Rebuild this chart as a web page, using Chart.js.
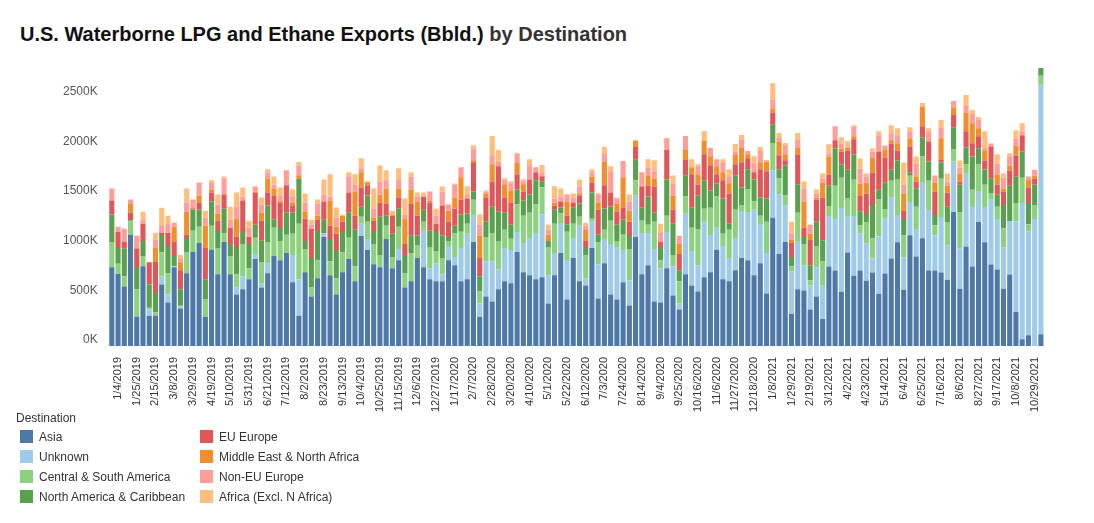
<!DOCTYPE html>
<html>
<head>
<meta charset="utf-8">
<script src="https://cdn.jsdelivr.net/npm/chart.js@4.4.0/dist/chart.umd.min.js"></script>
<style>
    body { margin: 0; background: #fff; font-family: Arial, "Liberation Sans", sans-serif; }
    #title { position: absolute; left: 20px; top: 23px; font-size: 20px; font-weight: bold; color: #111; }
    #title span { color: #333; }
    #wrap { position: absolute; left: 0; top: 48px; width: 1094px; height: 367px; }
    #legend { position: absolute; left: 16px; top: 411px; font-size: 12px; color: #333; }
    .item { position: absolute; white-space: nowrap; }
    .sw { display: inline-block; width: 13px; height: 13px; vertical-align: -2px; margin-right: 6px; }
</style>
</head>
<body>
<div id="title">U.S. Waterborne LPG and Ethane Exports (Bbld.) <span>by Destination</span></div>
<div id="wrap"><canvas id="chart"></canvas></div>
<div id="legend"></div>
<script>
// Weekly values, thousand bbl/d
const asia = [793,725,600,1119,295,803,305,305,620,437, 793,376,732,946,1037,295,966,722,1047,722,
    519,570,671,875,590,732,905,864,936,641, 305,742,498,681,1098,712,519,742,875,651,
    1108,966,824,793,1078,783,864,590,651,885, 793,671,651,651,864,814,651,671,1047,295,
    498,447,570,651,631,946,742,712,671,692, 427,712,936,468,885,651,610,986,478,834,
    519,468,641,407,1098,722,814,447,437,783, 509,366,722,610,549,692,742,966,671,651,
    763,885,864,712,834,529,1292,925,1047,325, 570,559,366,498,271,800,759,546,942,708,
    759,658,739,525,729,881,1044,566,1115,902, 1085,759,759,739,668,1349,576,1003,800,1248,
    1044,820,770,576,719,342,68,108,0,119];
const unknown = [0,0,0,0,0,0,61,0,81,81, 10,20,0,0,0,0,0,0,0,0,
    71,132,0,51,41,102,0,0,0,275, 366,0,0,0,41,0,0,0,0,0,
    122,112,0,0,0,0,112,0,0,0, 376,112,183,71,142,81,336,458,264,132,
    356,407,203,336,336,203,295,376,468,631, 285,224,295,397,203,559,71,264,346,244,
    509,529,325,254,417,417,325,529,346,366, 295,61,610,346,264,559,376,224,336,234,
    325,468,478,661,386,407,478,600,366,427, 488,254,244,295,336,509,519,844,366,600,
    376,376,142,580,559,620,275,325,336,275, 559,610,356,559,346,509,407,732,600,305,
    356,661,509,417,539,915,1373,1048,1278,2512];
const centralSouthAmerica = [254,102,102,136,275,102,20,31,244,214, 0,10,214,214,163,173,244,264,92,183,
    132,325,112,163,214,214,285,193,183,214, 559,234,92,183,0,142,163,203,214,153,
    71,173,203,122,132,112,224,142,285,132, 81,214,122,163,51,244,163,102,163,122,
    244,285,285,183,112,275,275,254,285,275, 285,295,102,285,142,92,234,31,224,92,
    234,61,153,315,153,122,81,275,81,163, 112,224,173,234,366,132,275,315,122,285,
    285,61,234,81,92,315,275,163,102,51, 285,214,51,214,244,102,336,305,183,366,
    81,214,203,376,92,163,356,224,264,224, 264,295,102,386,234,122,366,92,173,275,
    224,61,122,193,0,183,254,71,142,92];
const northAmericaCaribbean = [278,159,278,10,214,153,234,197,173,275, 102,166,142,214,173,203,244,173,244,122,
    275,122,244,132,214,366,81,132,224,214, 458,81,295,295,132,224,275,203,254,366,
    102,264,122,386,102,234,183,183,173,92, 122,163,203,224,41,71,173,102,81,153,
    153,264,295,173,142,153,153,183,244,61, 61,142,61,75,163,132,71,264,71,214,
    142,163,153,132,214,132,285,92,122,366, 315,112,214,203,336,285,173,132,356,61,
    346,183,203,224,183,234,183,92,305,92, 285,71,153,244,214,203,376,132,285,254,
    142,81,336,92,264,112,193,163,31,183, 193,193,102,163,153,224,275,173,336,163,
    153,142,122,234,356,264,264,214,203,81];
const euEurope = [139,163,68,78,197,173,224,312,20,132, 142,190,31,10,71,315,92,102,142,163,
    102,315,71,325,203,132,244,254,275,71, 0,224,295,112,183,132,173,102,203,142,
    193,102,112,142,122,183,112,112,325,203, 132,285,71,305,153,173,153,153,295,183,
    244,254,458,153,224,153,92,153,81,51, 0,41,61,88,51,81,71,102,254,234,
    142,132,122,142,122,214,112,264,61,295, 142,163,153,336,112,264,254,92,183,305,
    112,254,112,71,285,275,122,142,51,142, 295,92,254,224,427,112,81,132,193,153,
    153,203,325,386,254,264,102,81,264,71, 112,203,234,31,142,122,31,163,132,122,
    92,325,102,132,153,214,163,153,61,0];
const middleEast = [0,0,0,92,10,0,0,142,0,0, 153,81,234,10,71,224,31,71,0,0,
    183,0,0,10,81,142,71,20,0,31, 31,71,0,41,0,254,71,61,0,244,
    153,31,31,81,153,10,92,254,142,142, 0,20,0,0,112,112,224,0,20,224,
    41,173,0,132,122,112,71,0,0,0, 61,31,0,142,0,20,112,61,71,234,
    0,81,305,112,61,10,102,81,0,0, 142,102,102,71,102,132,92,81,81,102,
    92,142,41,0,71,92,41,132,61,31, 71,264,61,20,153,183,0,31,31,31,
    122,112,153,0,81,31,71,173,81,51, 193,0,92,214,71,71,81,183,203,81,
    102,0,102,31,51,102,0,81,31,0];
const nonEuEurope = [122,51,132,41,119,41,0,81,71,92, 41,41,92,81,132,81,71,92,163,81,
    122,41,92,51,81,61,41,51,153,61, 102,92,41,122,71,41,92,0,163,71,
    41,0,92,132,81,0,92,41,132,51, 0,92,81,142,61,132,92,41,122,112,
    20,92,41,41,71,92,31,142,51,41, 51,41,51,71,51,71,41,41,92,81,
    214,51,163,92,0,132,81,71,92,112, 122,81,142,0,81,0,81,71,102,71,
    31,81,31,92,112,0,92,41,81,61, 81,132,92,41,41,31,142,51,0,102,
    153,61,61,163,41,71,81,92,71,132, 0,102,71,112,41,71,61,71,92,81,
    20,31,112,112,92,71,41,31,61,0];
const africa = [0,0,0,0,0,81,0,71,183,81, 0,31,142,0,0,71,20,102,20,132,
    142,92,71,0,71,31,81,81,0,71, 31,92,51,41,153,224,102,10,41,102,
    102,10,203,163,102,41,112,163,41,41, 41,0,71,51,0,10,10,81,31,102,
    10,193,122,20,20,10,20,61,0,71, 51,122,81,0,41,71,31,31,0,71,
    51,10,0,71,10,0,81,112,92,10, 81,0,0,81,20,102,0,0,31,71,
    81,51,0,71,41,20,163,51,31,122, 71,71,0,41,51,92,0,61,61,10,
    102,31,31,41,0,81,71,224,41,71, 41,31,0,71,81,0,71,112,41,31,
    173,0,92,41,31,81,81,0,0,0];

// Week-ending dates, first week 12/28/2018
const weeks = [];
for (let i = 0; i < asia.length; i++) {
    const d = new Date(2018, 11, 28 + i * 7);
    weeks.push((d.getMonth() + 1) + '/' + d.getDate() + '/' + d.getFullYear());
}

const series = [
    { label: 'Asia', data: asia, color: '#4e79a7' },
    { label: 'Unknown', data: unknown, color: '#a0cbe8' },
    { label: 'Central & South America', data: centralSouthAmerica, color: '#8cd17d' },
    { label: 'North America & Caribbean', data: northAmericaCaribbean, color: '#59a14f' },
    { label: 'EU Europe', data: euEurope, color: '#e15759' },
    { label: 'Middle East & North Africa', data: middleEast, color: '#f28e2b' },
    { label: 'Non-EU Europe', data: nonEuEurope, color: '#ff9d9a' },
    { label: 'Africa (Excl. N Africa)', data: africa, color: '#ffbe7d' }
];

// Legend in two columns of four
const legend = document.getElementById('legend');
legend.innerHTML = '<div class="item" style="left:0;top:0">Destination</div>' +
    series.map((s, i) => {
        const left = i < 4 ? 4 : 184;
        const top = 19 + (i % 4) * 20;
        return `<div class="item" style="left:${left}px;top:${top}px"><span class="sw" style="background:${s.color}"></span>${s.label}</div>`;
    }).join('');

new Chart(document.getElementById('chart'), {
    type: 'bar',
    data: {
        labels: weeks,
        datasets: series.map(s => ({
            label: s.label,
            data: s.data,
            backgroundColor: s.color,
            categoryPercentage: 1,
            barPercentage: 0.82
        }))
    },
    options: {
        responsive: true,
        maintainAspectRatio: false,
        animation: false,
        layout: { padding: { top: 20, right: 50, left: 60 } },
        plugins: { legend: { display: false }, tooltip: { enabled: false } },
        scales: {
            x: {
                stacked: true,
                grid: { display: false },
                border: { display: false },
                ticks: {
                    autoSkip: false,
                    maxRotation: 90,
                    minRotation: 90,
                    color: '#333',
                    font: { size: 11 },
                    callback: function (value, index) {
                        return (index - 1) % 3 === 0 ? weeks[index] : '';
                    }
                }
            },
            y: {
                stacked: true,
                min: 0,
                max: 2800,
                grid: { display: false },
                border: { display: false },
                afterBuildTicks: axis => { axis.ticks = [0, 500, 1000, 1500, 2000, 2500].map(v => ({ value: v })); },
                ticks: {
                    color: '#555',
                    font: { size: 12 },
                    labelOffset: -6,
                    callback: value => value + 'K'
                }
            }
        }
    }
});
</script>
</body>
</html>
